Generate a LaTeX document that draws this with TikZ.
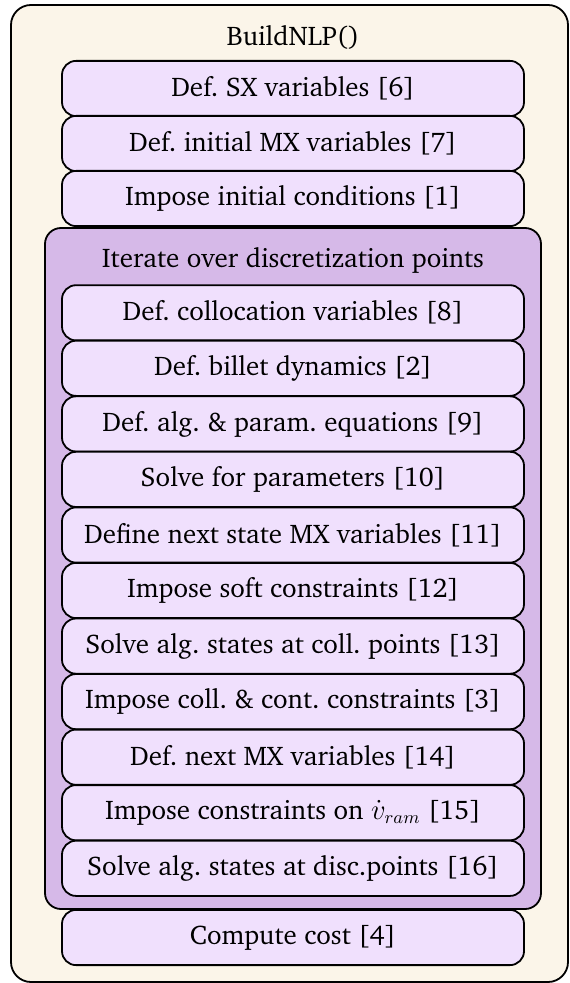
\documentclass[tikz,border=0pt]{standalone}
\usepackage[T1]{fontenc}
\usepackage{charter}
\definecolor{cream}{RGB}{251,245,233}
\definecolor{lav}{RGB}{240,224,253}
\definecolor{purp}{RGB}{214,185,232}
\tikzset{
  stepbox/.style={draw=black, line width=0.9pt, fill=lav, rounded corners=7pt,
    minimum width=231pt, minimum height=27.6pt, inner sep=0pt, font=\fontsize{13.5}{16}\selectfont},
  outerbox/.style={draw=black, line width=0.9pt, fill=cream, rounded corners=10pt,
    minimum width=278.5pt, minimum height=488.5pt, inner sep=0pt},
  loopbox/.style={draw=black, line width=0.9pt, fill=purp, rounded corners=8pt,
    minimum width=248pt, minimum height=340.5pt, inner sep=0pt},
  titletext/.style={font=\fontsize{13.5}{16}\selectfont, inner sep=0pt}
}
\begin{document}
\begin{tikzpicture}[x=0.5pt,y=-0.5pt]
\useasboundingbox (0,0) rectangle (569,983);
\node[outerbox] (outer) at (289.5,493.5) {};
\node[titletext] (title) at (293,37) {BuildNLP()};
\node[stepbox] (s1) at (293,88.5) {Def.\ SX variables [6]};
\node[stepbox] (s2) at (293,143.5) {Def.\ initial MX variables [7]};
\node[stepbox] (s3) at (293,198.5) {Impose initial conditions [1]};
\node[loopbox] (loop) at (293,568.5) {};
\node[titletext] (looptitle) at (293,260) {Iterate over discretization points};
\node[stepbox] (i1) at (293,312.8) {Def.\ collocation variables [8]};
\node[stepbox] (i2) at (293,368.3) {Def.\ billet dynamics [2]};
\node[stepbox] (i3) at (293,423.9) {Def.\ alg.\ \&\ param.\ equations [9]};
\node[stepbox] (i4) at (293,479.4) {Solve for parameters [10]};
\node[stepbox] (i5) at (293,535.0) {Define next state MX variables [11]};
\node[stepbox] (i6) at (293,590.5) {Impose soft constraints [12]};
\node[stepbox] (i7) at (293,646.1) {Solve alg.\ states at coll.\ points [13]};
\node[stepbox] (i8) at (293,701.6) {Impose coll.\ \&\ cont.\ constraints [3]};
\node[stepbox] (i9) at (293,757.2) {Def.\ next MX variables [14]};
\node[stepbox] (i10) at (293,812.7) {Impose constraints on $\dot{v}_{ram}$ [15]};
\node[stepbox] (i11) at (293,868.3) {Solve alg.\ states at disc.points [16]};
\node[stepbox] (s4) at (293,937.5) {Compute cost [4]};
\end{tikzpicture}
\end{document}
